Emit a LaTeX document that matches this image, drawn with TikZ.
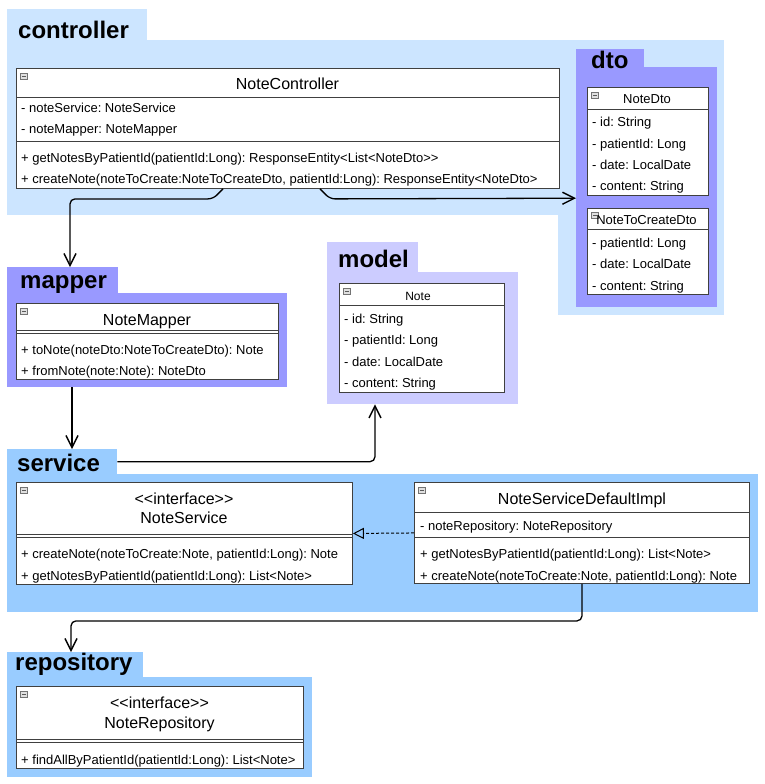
\documentclass[tikz,border=0pt]{standalone}
\usepackage{fontspec}
\setmainfont{Liberation Sans}[Ligatures=TeXOff]
\usetikzlibrary{arrows.meta}
\frenchspacing

\definecolor{ctrlblue}{RGB}{204,229,255}
\definecolor{svcblue}{RGB}{153,204,255}
\definecolor{dtopurple}{RGB}{153,153,255}
\definecolor{modelpurple}{RGB}{204,204,255}

\begin{document}
\begin{tikzpicture}[
    x=1pt, y=-1pt, % one unit per pixel, y grows downwards
    pkg/.style={fill=#1, inner sep=0pt, anchor=north west},
    ptitle/.style={anchor=base west, inner sep=0pt, font=\fontsize{24}{28}\selectfont\bfseries},
    cls/.style={draw=black!75, fill=white, line width=0.9pt, inner sep=0pt, anchor=north west},
    ctitle/.style={inner sep=0pt, text height=11.5pt, text depth=0pt, font=\fontsize{16}{19}\selectfont},
    stitle/.style={inner sep=0pt, text height=9.3pt, text depth=0pt, font=\fontsize{13}{15}\selectfont},
    member/.style={anchor=west, inner sep=0pt, text height=9.3pt, text depth=0pt, font=\fontsize{13}{15}\selectfont},
    sep/.style={draw=black!75, line width=0.9pt},
    icon/.style={
      draw=black!55, fill=black!12, line width=0.5pt,
      minimum width=7pt, minimum height=6pt, inner sep=0pt, anchor=north west,
      path picture={\draw[black!65, line width=0.6pt]
        ([xshift=1.5pt]path picture bounding box.west) -- ([xshift=-1.5pt]path picture bounding box.east);}
    },
    conn/.style={line width=1.3pt, rounded corners=5pt,
      -{Straight Barb[length=12pt, width=12pt, line width=1.4pt]}},
    realize/.style={draw=black, line width=1pt, dash pattern=on 3pt off 2pt,
      -{Triangle[open, length=11pt, width=11pt, line width=1pt]}},
  ]
    \useasboundingbox (0,0) rectangle (765,784);

    % packages
    \node[pkg=ctrlblue, minimum width=140pt, minimum height=31pt] (ctrltab) at (7,9) {};
    \node[pkg=ctrlblue, minimum width=717pt, minimum height=175pt] (ctrlbody) at (7,40) {};
    \node[pkg=ctrlblue, minimum width=166pt, minimum height=101pt] (ctrlext) at (558,214) {};
    \node[ptitle] (ctrltitle) at (18,39) {controller};

    \node[pkg=dtopurple, minimum width=68pt, minimum height=19pt] (dtotab) at (576,49) {};
    \node[pkg=dtopurple, minimum width=141pt, minimum height=240pt] (dtobody) at (576,67) {};
    \node[ptitle] (dtotitle) at (591,68) {dto};

    \node[pkg=dtopurple, minimum width=111pt, minimum height=26pt] (maptab) at (7,267) {};
    \node[pkg=dtopurple, minimum width=280pt, minimum height=94pt] (mapbody) at (7,293) {};
    \node[ptitle] (maptitle) at (20,288) {mapper};

    \node[pkg=modelpurple, minimum width=91pt, minimum height=30pt] (modtab) at (327,242) {};
    \node[pkg=modelpurple, minimum width=191pt, minimum height=132pt] (modbody) at (327,272) {};
    \node[ptitle] (modtitle) at (338,267) {model};

    \node[pkg=svcblue, minimum width=110pt, minimum height=25pt] (svctab) at (7,449) {};
    \node[pkg=svcblue, minimum width=751pt, minimum height=138pt] (svcbody) at (7,474) {};
    \node[ptitle] (svctitle) at (17,471) {service};

    \node[pkg=svcblue, minimum width=136pt, minimum height=25pt] (repotab) at (7,652) {};
    \node[pkg=svcblue, minimum width=305pt, minimum height=100pt] (repobody) at (7,677) {};
    \node[ptitle] (repotitle) at (15,670) {repository};

    % NoteController
    \node[cls, minimum width=543pt, minimum height=120pt] (nc) at (16,68) {};
    \node[icon] (ncicon) at ([shift={(4pt,-5pt)}]nc.north west) {};
    \node[ctitle] (nctitle) at (287.5,84) {NoteController};
    \draw[sep] ([yshift=-29pt]nc.north west) -- ([yshift=-29pt]nc.north east);
    \draw[sep] ([yshift=-73pt]nc.north west) -- ([yshift=-73pt]nc.north east);
    \foreach \txt [count=\i from 0] in {{- noteService: NoteService}, {- noteMapper: NoteMapper}}
      \node[member] (nc-a\i) at (21,{108+21*\i}) {\txt};
    \foreach \txt [count=\i from 0] in {
        {+ getNotesByPatientId(patientId:Long): ResponseEntity<List<NoteDto>>},
        {+ createNote(noteToCreate:NoteToCreateDto, patientId:Long): ResponseEntity<NoteDto>}}
      \node[member] (nc-m\i) at (21,{158+21*\i}) {\txt};

    % NoteDto
    \node[cls, minimum width=121pt, minimum height=108pt] (ndto) at (587,87) {};
    \node[icon] (ndtoicon) at ([shift={(4pt,-5pt)}]ndto.north west) {};
    \node[stitle] (ndtotitle) at (647,99) {NoteDto};
    \draw[sep] ([yshift=-22pt]ndto.north west) -- ([yshift=-22pt]ndto.north east);
    \foreach \txt [count=\i from 0] in {{- id: String}, {- patientId: Long}, {- date: LocalDate}, {- content: String}}
      \node[member] (ndto-a\i) at (592,{122+21.4*\i}) {\txt};

    % NoteToCreateDto
    \node[cls, minimum width=121pt, minimum height=86pt] (ncdto) at (587,208) {};
    \node[icon] (ncdtoicon) at ([shift={(4pt,-4pt)}]ncdto.north west) {};
    \node[stitle] (ncdtotitle) at (646.5,220) {NoteToCreateDto};
    \draw[sep] ([yshift=-21pt]ncdto.north west) -- ([yshift=-21pt]ncdto.north east);
    \foreach \txt [count=\i from 0] in {{- patientId: Long}, {- date: LocalDate}, {- content: String}}
      \node[member] (ncdto-a\i) at (592,{243+21.2*\i}) {\txt};

    % NoteMapper
    \node[cls, minimum width=262pt, minimum height=76pt] (nmap) at (16,303) {};
    \node[icon] (nmapicon) at ([shift={(4pt,-5pt)}]nmap.north west) {};
    \node[ctitle] (nmaptitle) at (147,320) {NoteMapper};
    \draw[sep] ([yshift=-27pt]nmap.north west) -- ([yshift=-27pt]nmap.north east);
    \draw[sep] ([yshift=-30pt]nmap.north west) -- ([yshift=-30pt]nmap.north east);
    \foreach \txt [count=\i from 0] in {{+ toNote(noteDto:NoteToCreateDto): Note}, {+ fromNote(note:Note): NoteDto}}
      \node[member] (nmap-m\i) at (21,{350+20.5*\i}) {\txt};

    % Note
    \node[cls, minimum width=165pt, minimum height=109pt] (note) at (339,283) {};
    \node[icon] (noteicon) at ([shift={(4pt,-5pt)}]note.north west) {};
    \node[stitle, font=\fontsize{12}{14}\selectfont] (notetitle) at (418,296) {Note};
    \draw[sep] ([yshift=-22pt]note.north west) -- ([yshift=-22pt]note.north east);
    \foreach \txt [count=\i from 0] in {{- id: String}, {- patientId: Long}, {- date: LocalDate}, {- content: String}}
      \node[member] (note-a\i) at (344,{319+21.3*\i}) {\txt};

    % NoteService
    \node[cls, minimum width=336pt, minimum height=102pt] (nsvc) at (16,482) {};
    \node[icon] (nsvcicon) at ([shift={(4pt,-5pt)}]nsvc.north west) {};
    \node[ctitle] (nsvcstereo) at (184,499) {<<interface>>};
    \node[ctitle] (nsvctitle) at (184,518) {NoteService};
    \draw[sep] ([yshift=-52pt]nsvc.north west) -- ([yshift=-52pt]nsvc.north east);
    \draw[sep] ([yshift=-55pt]nsvc.north west) -- ([yshift=-55pt]nsvc.north east);
    \foreach \txt [count=\i from 0] in {
        {+ createNote(noteToCreate:Note, patientId:Long): Note},
        {+ getNotesByPatientId(patientId:Long): List<Note>}}
      \node[member] (nsvc-m\i) at (21,{554+21.5*\i}) {\txt};

    % NoteServiceDefaultImpl
    \node[cls, minimum width=335pt, minimum height=101pt] (impl) at (414,482) {};
    \node[icon] (implicon) at ([shift={(4pt,-5pt)}]impl.north west) {};
    \node[ctitle] (impltitle) at (582,499) {NoteServiceDefaultImpl};
    \draw[sep] ([yshift=-30pt]impl.north west) -- ([yshift=-30pt]impl.north east);
    \draw[sep] ([yshift=-55pt]impl.north west) -- ([yshift=-55pt]impl.north east);
    \node[member] (impl-a0) at (420,526) {- noteRepository: NoteRepository};
    \foreach \txt [count=\i from 0] in {
        {+ getNotesByPatientId(patientId:Long): List<Note>},
        {+ createNote(noteToCreate:Note, patientId:Long): Note}}
      \node[member] (impl-m\i) at (420,{554+21.5*\i}) {\txt};

    % NoteRepository
    \node[cls, minimum width=287pt, minimum height=82pt] (nrep) at (16,686) {};
    \node[icon] (nrepicon) at ([shift={(4pt,-5pt)}]nrep.north west) {};
    \node[ctitle] (nrepstereo) at (159.5,703) {<<interface>>};
    \node[ctitle] (nreptitle) at (159.5,723) {NoteRepository};
    \draw[sep] ([yshift=-53pt]nrep.north west) -- ([yshift=-53pt]nrep.north east);
    \draw[sep] ([yshift=-56pt]nrep.north west) -- ([yshift=-56pt]nrep.north east);
    \node[member] (nrep-m0) at (21,760) {+ findAllByPatientId(patientId:Long): List<Note>};

    % dependencies
    \draw[conn] ([xshift=207pt]nc.south west) -- ++(-10,10) -| ([xshift=63pt]maptab.north west);
    \draw[conn] ([xshift=304pt]nc.south west) -- ++(10,10) -- ([yshift=-11pt]dtobody.west);
    \draw[conn] ([xshift=65pt]mapbody.south west) -- ([xshift=65pt]svctab.north west);
    \draw[conn] (svctab.east) -| ([xshift=48pt]modbody.south west);
    \draw[realize] (impl.west) -- (nsvc.east);
    \draw[conn] ([xshift=168pt]impl.south west) -- ++(0,37) -| ([xshift=64pt]repotab.north west);
  \end{tikzpicture}
\end{document}
